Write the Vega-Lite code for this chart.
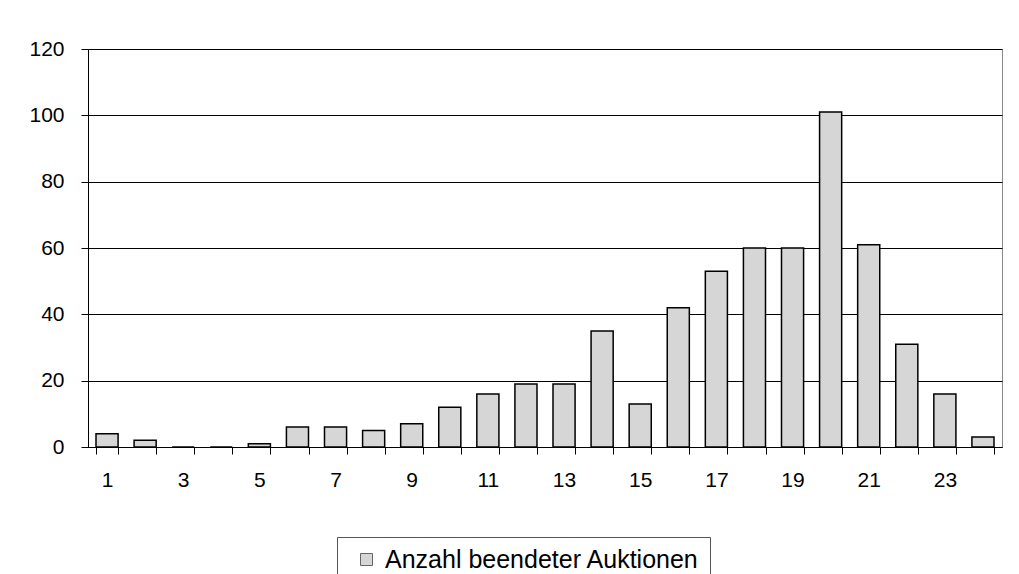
{
  "$schema": "https://vega.github.io/schema/vega-lite/v6.json",
  "width": 914,
  "height": 398,
  "autosize": {"type": "none"},
  "padding": {"left": 88, "top": 49, "right": 17, "bottom": 127},
  "background": "white",
  "config": {
    "font": "Liberation Sans",
    "view": {"stroke": "#888888", "strokeWidth": 1}
  },
  "data": {
    "values": [
      {"h": 1, "v": 4}, {"h": 2, "v": 2}, {"h": 3, "v": 0}, {"h": 4, "v": 0},
      {"h": 5, "v": 1}, {"h": 6, "v": 6}, {"h": 7, "v": 6}, {"h": 8, "v": 5},
      {"h": 9, "v": 7}, {"h": 10, "v": 12}, {"h": 11, "v": 16}, {"h": 12, "v": 19},
      {"h": 13, "v": 19}, {"h": 14, "v": 35}, {"h": 15, "v": 13}, {"h": 16, "v": 42},
      {"h": 17, "v": 53}, {"h": 18, "v": 60}, {"h": 19, "v": 60}, {"h": 20, "v": 101},
      {"h": 21, "v": 61}, {"h": 22, "v": 31}, {"h": 23, "v": 16}, {"h": 24, "v": 3}
    ]
  },
  "mark": {"type": "bar", "fill": "#d6d6d6", "stroke": "black", "strokeWidth": 1.5},
  "encoding": {
    "x": {
      "field": "h",
      "type": "ordinal",
      "sort": null,
      "scale": {"paddingInner": 0.42, "paddingOuter": 0.21},
      "axis": {
        "title": null,
        "labelAngle": 0,
        "labelFontSize": 21,
        "labelColor": "black",
        "labelPadding": 15,
        "tickBand": "extent",
        "tickSize": 7,
        "tickColor": "black",
        "domainColor": "black",
        "labelExpr": "datum.value % 2 == 1 ? datum.label : ''"
      }
    },
    "y": {
      "field": "v",
      "type": "quantitative",
      "scale": {"domain": [0, 120], "nice": false},
      "axis": {
        "title": null,
        "values": [0, 20, 40, 60, 80, 100, 120],
        "labelFontSize": 21,
        "labelColor": "black",
        "labelPadding": 17,
        "tickSize": 7,
        "tickColor": "black",
        "domainColor": "black",
        "gridColor": "black",
        "gridOpacity": 1,
        "grid": true
      }
    },
    "color": {
      "datum": "Anzahl beendeter Auktionen",
      "type": "nominal",
      "scale": {"range": ["#d6d6d6"]},
      "legend": {
        "title": null,
        "orient": "none",
        "legendX": 249,
        "legendY": 488,
        "symbolType": "square",
        "symbolSize": 144,
        "symbolStrokeColor": "#666666",
        "symbolStrokeWidth": 1,
        "symbolOffset": 7,
        "labelFontSize": 25,
        "labelColor": "black",
        "labelLimit": 500,
        "labelOffset": 6,
        "strokeColor": "#555555",
        "padding": 10,
        "fillColor": "white"
      }
    }
  }
}
